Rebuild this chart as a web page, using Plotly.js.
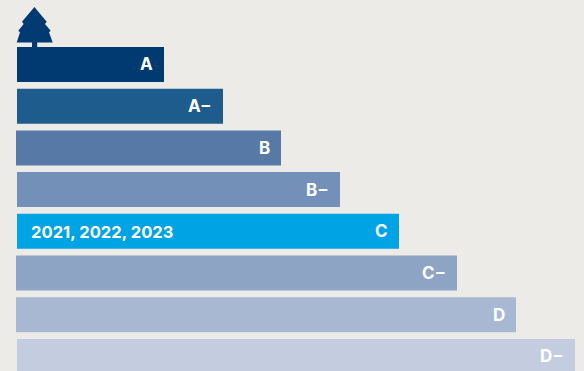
<!DOCTYPE html>
<html><head><meta charset="utf-8">
<script src="https://cdn.plot.ly/plotly-3.0.1.min.js"></script>
<style>html,body{margin:0;padding:0;background:#edebe7;overflow:hidden}</style>
</head><body><div id="chart" style="width:584px;height:371px"></div>
<script>
const grades = ["A","A−","B","B−","C","C−","D","D−"];
const gradeLabels = ["A","A−","B","B−","C","C−","D","D−"];
const barStarts = [17,17,16,17,17,16,16,17];
const barEnds = [164,223,281,340,399,457,516,575];
const barColors = ["#003a70","#1d5c8c","#5679a6","#7391b8","#00a3e4","#8ea4c4","#a8b8d3","#c4cde0"];
const yearsText = "2021, 2022, 2023";
const yearsGrade = "C";
const font = "Inter, 'Open Sans', sans-serif";

const trace = {
  type:"bar", orientation:"h",
  y:grades,
  x:barEnds.map((e,i)=>e-barStarts[i]),
  base:barStarts,
  marker:{color:barColors,line:{width:0}},
  textposition:"none",
  hoverinfo:"skip"
};
const labelAnn = grades.map((g,i)=>({
  x:barEnds[i]-9, y:g, xref:"x", yref:"y", text:gradeLabels[i],
  showarrow:false, xanchor:"right", yanchor:"middle", yshift:0,
  font:{family:font,size:17,color:"#ffffff",weight:700}
}));
labelAnn.push({x:28.5,y:yearsGrade,xref:"x",yref:"y",text:yearsText,showarrow:false,yshift:-1,
  xanchor:"left",yanchor:"middle",font:{family:font,size:16.6,color:"#ffffff",weight:700}});
const tree = "M34.4,7 L46.7,21.7 L45,24 L50.7,30.7 L49,32.3 L52.7,42.5 L37.2,42.5 L37.2,47 L32,47 L32,42.5 L16.7,42.5 L20,32.3 L18.3,30.7 L23.7,24 L22,21.7 Z";
Plotly.newPlot("chart",[trace],{
  width:584,height:371,margin:{l:0,r:0,t:0,b:0},
  paper_bgcolor:"#edebe7",plot_bgcolor:"#edebe7",showlegend:false,
  bargap:0.161,
  xaxis:{range:[0,584],visible:false,fixedrange:true},
  yaxis:{type:"category",categoryorder:"array",categoryarray:grades,range:[7.349,-1.546],visible:false,fixedrange:true},
  annotations:labelAnn,
  shapes:[{type:"path",xref:"x",yref:"paper",ysizemode:"pixel",yanchor:1,path:tree.replace(/([\d.]+),([\d.]+)/g,(m,a,b)=>a+","+(-b)),fillcolor:"#003a70",line:{width:0}}]
},{displayModeBar:false,staticPlot:true});
</script></body></html>
